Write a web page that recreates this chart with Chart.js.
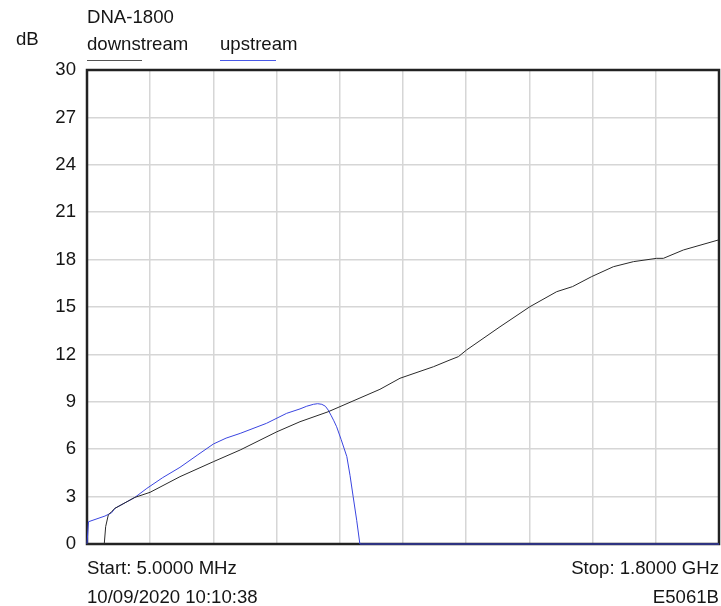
<!DOCTYPE html>
<html>
<head>
<meta charset="utf-8">
<script src="https://cdn.jsdelivr.net/npm/chart.js@4.4.1/dist/chart.umd.min.js"></script>
<style>
  html, body { margin: 0; padding: 0; background: #fff; }
  #wrap { position: relative; width: 721px; height: 606px; font-family: "Liberation Sans", Arial, sans-serif; font-size: 18.6px; color: #151515; }
  canvas { position: absolute; left: 0; top: 0; }
  .t { position: absolute; line-height: 18px; white-space: nowrap; }
  .r { text-align: right; }
  .ul { position: absolute; height: 1px; }
</style>
</head>
<body>
<div id="wrap">
  <canvas id="c" width="721" height="606"></canvas>
  <div class="t" style="left:87px; top:8px;">DNA-1800</div>
  <div class="t" style="left:16px; top:30px;">dB</div>
  <div class="t" style="left:87px; top:35px;">downstream</div>
  <div class="ul" style="left:87px; top:60px; width:55px; background:#555;"></div>
  <div class="t" style="left:220px; top:35px;">upstream</div>
  <div class="ul" style="left:220px; top:60px; width:56px; background:#4a5ae8;"></div>
  <div class="t" style="left:87px; top:559px;">Start: 5.0000 MHz</div>
  <div class="t" style="left:87px; top:588px;">10/09/2020 10:10:38</div>
  <div class="t r" style="right:2px; top:559px;">Stop: 1.8000 GHz</div>
  <div class="t r" style="right:2px; top:588px;">E5061B</div>
</div>
<script>
// Frequency axis (MHz) and readings (dB)
const xMin = 5;
const xMax = 1800;
const yTicks = [0, 3, 6, 9, 12, 15, 18, 21, 24, 27, 30];

const downFreq = [5, 54, 58, 65.5, 75, 84.5, 141, 184, 269, 364, 440, 544, 610, 690, 837, 894, 989, 1036, 1060, 1083, 1178, 1263, 1339, 1384, 1438, 1500, 1557, 1623, 1642, 1699, 1798];
const downDb   = [0, 0, 1.1, 1.84, 2.05, 2.26, 2.95, 3.27, 4.26, 5.21, 5.95, 7.1, 7.74, 8.37, 9.79, 10.49, 11.22, 11.65, 11.86, 12.28, 13.75, 15.02, 15.97, 16.29, 16.92, 17.55, 17.87, 18.08, 18.08, 18.61, 19.24];

const upFreq = [5, 9.3, 56, 75, 84.5, 141, 175, 220, 269, 320, 364, 400, 440, 515, 572, 610, 629, 648, 660, 672, 682, 690, 698, 706, 714, 727, 743, 752, 761, 771, 780, 1800];
const upDb   = [0, 1.41, 1.77, 1.98, 2.26, 2.95, 3.52, 4.2, 4.85, 5.65, 6.33, 6.7, 7.0, 7.64, 8.27, 8.55, 8.72, 8.84, 8.88, 8.84, 8.72, 8.48, 8.15, 7.8, 7.42, 6.6, 5.53, 4.35, 2.99, 1.5, 0, 0];

const toPts = (xs, ys) => xs.map((x, i) => ({ x: x, y: ys[i] }));

const frame = {
  id: 'frame',
  beforeDatasetsDraw(chart) {
    const a = chart.chartArea, ctx = chart.ctx;
    ctx.save();
    ctx.strokeStyle = '#222';
    ctx.lineWidth = 2.5;
    ctx.strokeRect(a.left, a.top, a.right - a.left, a.bottom - a.top);
    ctx.restore();
  }
};

new Chart(document.getElementById('c'), {
  type: 'line',
  data: {
    datasets: [
      { label: 'downstream', data: toPts(downFreq, downDb), borderColor: '#2a2a2a', borderWidth: 1, pointRadius: 0, tension: 0, clip: 4 },
      { label: 'upstream', data: toPts(upFreq, upDb), borderColor: '#3a45e0', borderWidth: 1, pointRadius: 0, tension: 0, clip: 4 }
    ]
  },
  options: {
    responsive: false,
    animation: false,
    events: [],
    layout: { padding: { top: 70, right: 2, left: 0, bottom: 0 } },
    plugins: { legend: { display: false }, tooltip: { enabled: false }, title: { display: false } },
    scales: {
      x: {
        type: 'linear', min: xMin, max: xMax,
        afterBuildTicks(s) { const t = []; for (let i = 0; i <= 10; i++) t.push({ value: xMin + i * (xMax - xMin) / 10 }); s.ticks = t; },
        afterFit(s) { s.height = 62; },
        ticks: { display: false },
        grid: { color: '#d6d6d6', lineWidth: 1.5, drawTicks: false },
        border: { display: false }
      },
      y: {
        min: 0, max: 30,
        afterBuildTicks(s) { s.ticks = yTicks.map(v => ({ value: v })); },
        afterFit(s) { s.width = 87; },
        ticks: { padding: 11, color: '#151515', font: { family: '"Liberation Sans", Arial, sans-serif', size: 18.6 } },
        grid: { color: '#d6d6d6', lineWidth: 1.5, drawTicks: false },
        border: { display: false }
      }
    }
  },
  plugins: [frame]
});
</script>
</body>
</html>
